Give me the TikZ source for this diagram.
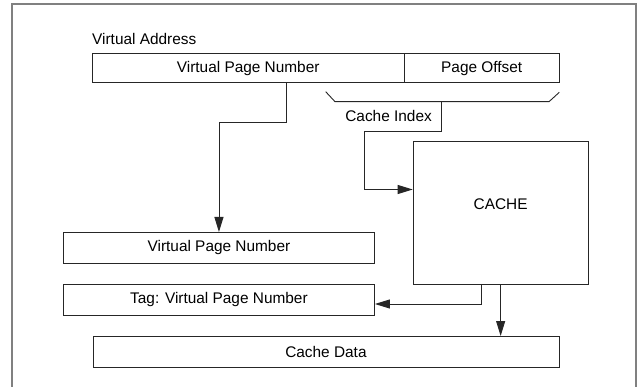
\documentclass[tikz,border=0pt]{standalone}
\usepackage{fontspec}
\setmainfont{Liberation Sans}
\usetikzlibrary{arrows.meta}
\tikzset{
  field/.style={draw=black!85, line width=0.9pt, inner sep=0pt, anchor=north west, minimum height=29pt},
  wire/.style={draw=black!85, line width=0.9pt},
  arr/.style={wire, -{Triangle[length=15pt,width=9pt]}},
}
\begin{document}
\begin{tikzpicture}[x=1pt,y=-1pt,font=\fontsize{15.4}{18}\selectfont]
  \useasboundingbox (0,0) rectangle (637,387);
  % frame, open at the bottom
  \draw[gray, line width=2pt] (12,387) -- (12,4) -- (636,4) -- (636,387);
  % virtual address
  \node[anchor=base west, inner sep=0pt] (va) at (92,45) {Virtual Address};
  \node[field, minimum width=311.5pt] (vpn) at (92,53.3) {Virtual Page Number};
  \node[field, minimum width=155.5pt] (off) at (403.5,53.3) {Page Offset};
  % cache and the result fields
  \node[field, minimum width=175pt, minimum height=143pt] (cache) at (412.7,140.7) {};
  \node[yshift=8pt] (cachetxt) at (cache.center) {CACHE};
  \node[field, minimum width=311pt, minimum height=31pt] (vpntwo) at (63,232) {Virtual Page Number};
  \node[field, minimum width=311pt, minimum height=31pt] (tag) at (63,284) {Tag: Virtual Page Number};
  \node[field, minimum width=466pt, minimum height=31pt] (data) at (92.5,336) {Cache Data};
  % index bracket
  \draw[wire] (325.7,91.7) -- (335,101.7) -- (549,101.7) -- (559.3,92.3);
  \coordinate (idx) at (441.7,101.7);
  \node[anchor=base east, inner sep=0pt] (ci) at (432,121.7) {Cache Index};
  \draw[arr] (idx) -- (441.7,131) -| (364.3,189.5) -- (cache.west |- 0,189.5);
  % page number goes straight down
  \coordinate (vpnout) at (286.7,82.3);
  \draw[arr] (vpnout) -- (286.7,122.3) -| (vpntwo.north);
  % cache outputs
  \coordinate (tagout) at (481,284);
  \draw[arr] (tagout) -- (481,304) -- (tag.east |- 0,304);
  \draw[arr] (cache.south) -- (cache.south |- data.north);
\end{tikzpicture}
\end{document}
